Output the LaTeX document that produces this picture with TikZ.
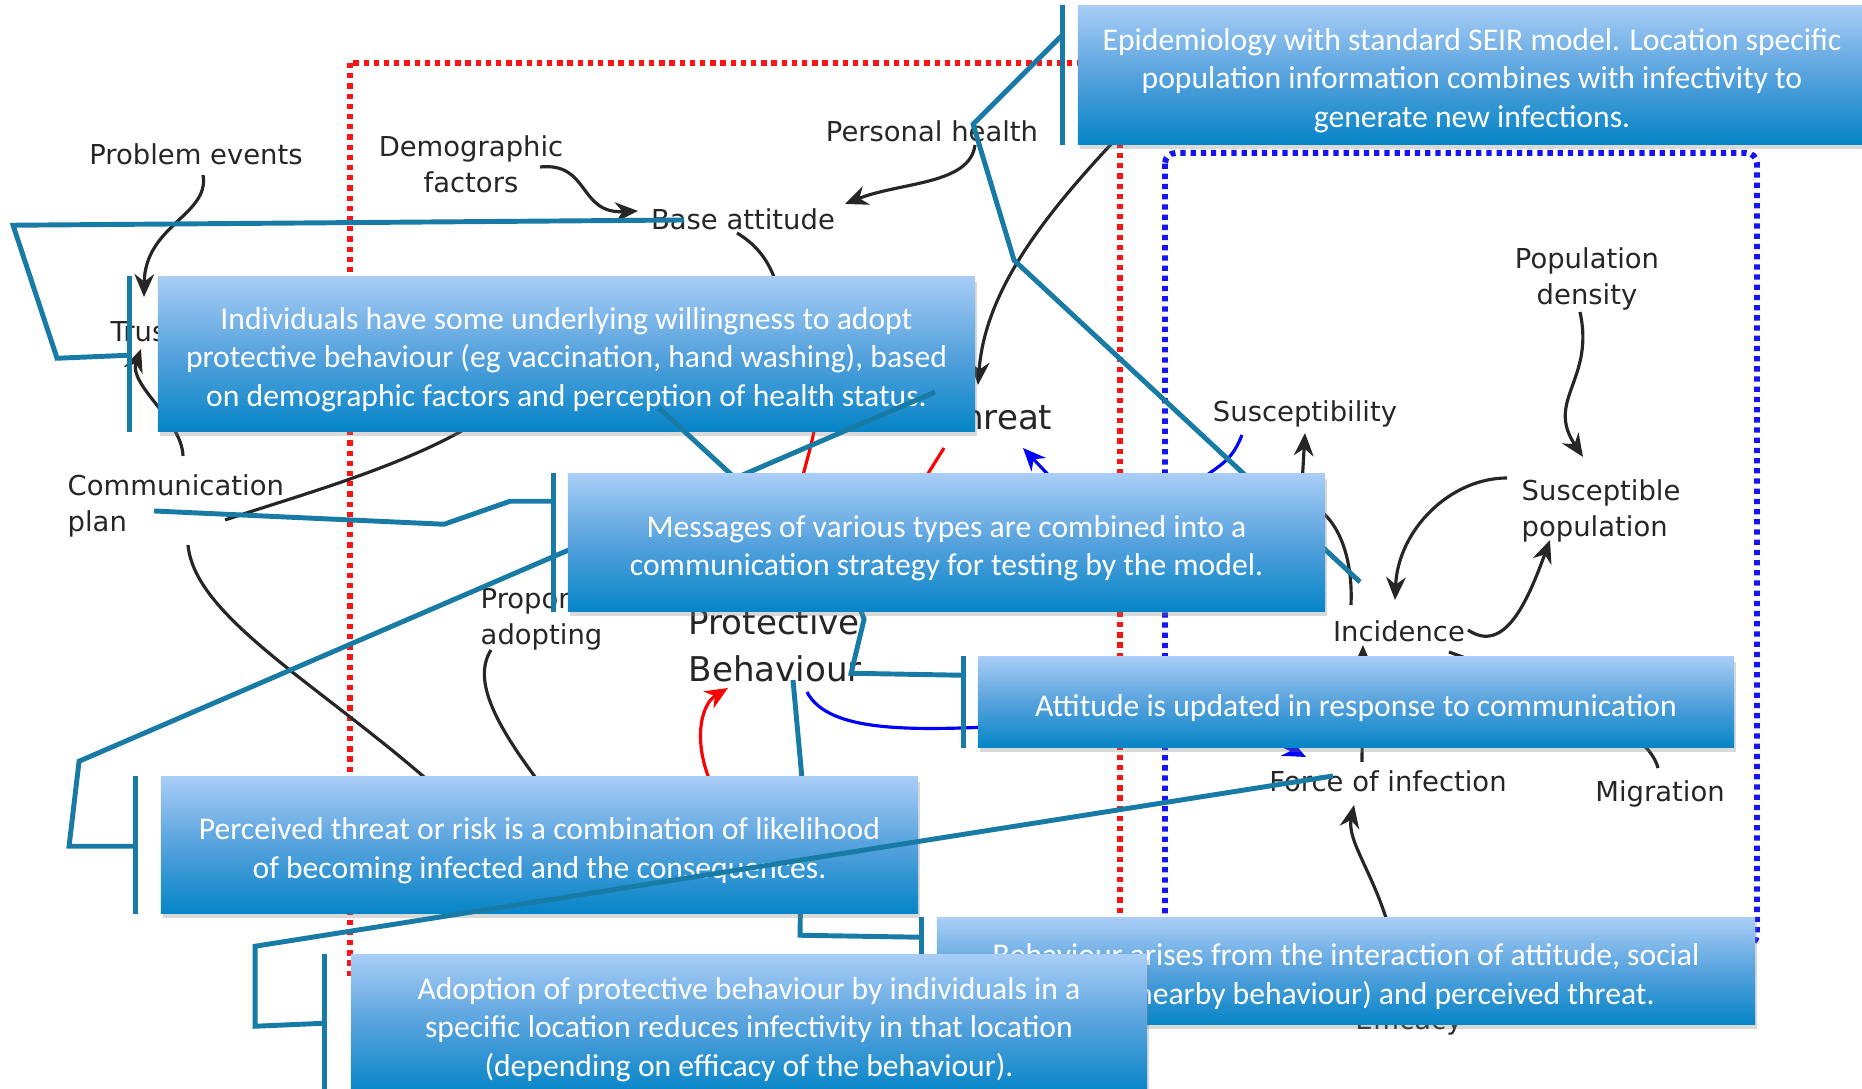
\documentclass[tikz,border=0pt]{standalone}
\usepackage{fontspec}
\usetikzlibrary{arrows.meta, shadows}
\newfontfamily\calfont{Carlito}
\newfontfamily\termfont{DejaVu Sans}
\newcommand{\calstrut}{\rule{0pt}{9.5pt}}
\definecolor{caltop}{RGB}{168,205,246}
\definecolor{calmid}{RGB}{86,162,221}
\definecolor{calbot}{RGB}{6,133,199}
\definecolor{leadblue}{RGB}{24,123,166}
\definecolor{dotred}{RGB}{250,20,20}
\definecolor{dotblue}{RGB}{20,20,245}
\tikzstyle{term} = [font=\termfont\fontsize{7.8}{10.5}\selectfont, text=black!85, inner sep=0pt, align=center]
\tikzstyle{bigterm} = [term, font=\termfont\fontsize{9.7}{13.4}\selectfont, align=left]
\tikzstyle{callout} = [rectangle, inner sep=0pt, top color=caltop, bottom color=calbot, middle color=calmid, text=white, align=center, font=\calfont\fontsize{9}{11}\selectfont, drop shadow={shadow xshift=0.6pt, shadow yshift=-1.5pt, opacity=0.3}]
\tikzstyle{bar} = [draw=leadblue, line width=1.4pt]
\tikzstyle{leader} = [draw=leadblue, line width=1.4pt]
\tikzstyle{arrow} = [line width=0.9pt, black!85, -{Stealth[length=6.5pt, width=5.6pt]}]
\tikzstyle{link} = [line width=0.9pt, black!85]
\tikzstyle{zone} = [line width=1.7pt, dash pattern=on 1.5pt off 1.4pt]

\begin{document}
\begin{tikzpicture}[x=0.01cm, y=-0.01cm]
    \useasboundingbox (0,0) rectangle (1862,1089);
    \clip (0,0) rectangle (1862,1089);

    % behaviour and epidemic zones
    \draw [zone, draw=dotred] (350,63) rectangle (1120,980);
    \draw [zone, draw=dotblue, rounded corners=3pt] (1165,153) rectangle (1757,945);

    \node (node0) [term, anchor=base] at (196,165) {Problem events};
    \node (node1) [term, anchor=base] at (471,193) {Demographic\\factors};
    \node (node2) [term, anchor=base] at (932,142) {Personal health};
    \node (node3) [term, anchor=base] at (743,230) {Base attitude};
    \node (node4) [term, anchor=base west] at (110,342) {Trust};
    \node (node5) [term, align=left, anchor=base west] at (67,532) {Communication\\plan};
    \node (node6) [term, align=left, anchor=base west] at (480,645) {Proportion\\adopting};
    \node (node7) [bigterm, anchor=base west] at (688,682) {Protective\\Behaviour};
    \node (node8) [bigterm, anchor=base east] at (1053,430) {Threat};
    \node (node9) [term, anchor=base] at (1305,422) {Susceptibility};
    \node (node10) [term, anchor=base] at (1587,305) {Population\\density};
    \node (node11) [term, align=left, anchor=base west] at (1521,537) {Susceptible\\population};
    \node (node12) [term, anchor=base] at (1399,642) {Incidence};
    \node (node13) [term, anchor=base] at (1388,792) {Force of infection};
    \node (node14) [term, anchor=base] at (1660,802) {Migration};
    \node (node15) [term, anchor=base] at (1409,1030) {Efficacy};

    % ends that run under the callouts
    \coordinate (hid0) at (780,300);
    \coordinate (hid1) at (1115,140);
    \coordinate (hid2) at (480,420);
    \coordinate (hid3) at (450,800);
    \coordinate (hid4) at (545,790);
    \coordinate (hid5) at (714,790);
    \coordinate (hid6) at (815,425);
    \coordinate (hid7) at (802,480);
    \coordinate (hid8) at (924,480);
    \coordinate (hid9) at (1055,482);
    \coordinate (hid10) at (1203,478);
    \coordinate (hid11) at (1302,485);
    \coordinate (hid12) at (1312,505);
    \coordinate (hid13) at (857,600);

    \draw [arrow] ([shift={(7,10)}]node0.base) .. controls +(7,40) and +(1,-72) .. ([shift={(34,-45)}]node4.base west);
    \draw [arrow] ([shift={(69,-26)}]node1.base) .. controls +(50,-5) and +(-60,3) .. ([shift={(-105,-19)}]node3.base);
    \draw [arrow] ([shift={(43,3)}]node2.base) .. controls +(-5,40) and +(55,-22) .. ([shift={(102,-26)}]node3.base);
    \draw [link] ([shift={(-6,3)}]node3.base) .. controls +(25,15) and +(-5,-30) .. (hid0);
    \draw [arrow] (hid1) .. controls (1045,215) and (985,290) .. ([shift={(-75,-45)}]node8.base east);
    \draw [arrow] ([shift={(116,-76)}]node5.base west) .. controls +(-1,-36) and +(-13,36) .. ([shift={(31,7)}]node4.base west);
    \draw [link] ([shift={(158,-12)}]node5.base west) .. controls +(75,-25) and +(-70,45) .. (hid2);
    \draw [link] ([shift={(121,13)}]node5.base west) .. controls +(7,75) and +(-120,-110) .. (hid3);
    \draw [link] ([shift={(11,5)}]node6.base west) .. controls +(-19,30) and +(-50,-65) .. (hid4);
    \draw [arrow, red] (hid5) .. controls (692,745) and (700,705) .. ([shift={(40,6)}]node7.base west);
    \draw [arrow, blue] ([shift={(119,10)}]node7.base west) .. controls (850,775) and (1150,680) .. ([shift={(-82,-35)}]node13.base);
    \draw [link, red] (hid6) .. controls (812,445) and (806,462) .. (hid7);
    \draw [link, red] ([shift={(-109,18)}]node8.base east) -- (hid8);
    \draw [arrow, blue] (hid9) -- ([shift={(-30,18)}]node8.base east);
    \draw [link, blue] ([shift={(-63,13)}]node9.base) .. controls +(-10,25) and +(20,-15) .. (hid10);
    \draw [arrow] (hid11) -- ([shift={(0,11)}]node9.base);
    \draw [arrow] ([shift={(-7,7)}]node10.base) .. controls +(15,68) and +(-38,-57) .. ([shift={(62,-80)}]node11.base west);
    \draw [arrow] ([shift={(-14,-59)}]node11.base west) .. controls +(-57,0) and +(3,-70) .. ([shift={(-4,-42)}]node12.base);
    \draw [arrow] ([shift={(69,-12)}]node12.base) .. controls +(37,25) and +(-22,60) .. ([shift={(29,3)}]node11.base west);
    \draw [link] (hid12) .. controls (1340,520) and (1353,560) .. ([shift={(-48,-37)}]node12.base);
    \draw [arrow] ([shift={(-26,-30)}]node13.base) -- ([shift={(-36,3)}]node12.base);
    \draw [link] ([shift={(50,10)}]node12.base) .. controls +(110,40) and +(-10,-40) .. ([shift={(-2,-34)}]node14.base);
    \draw [arrow] ([shift={(-10,-25)}]node15.base) .. controls (1400,900) and (1345,850) .. ([shift={(-34,13)}]node13.base);

    % callouts
    \node (box0) [callout, minimum width=7.88cm, minimum height=1.38cm] at (1472,75) {\calstrut Epidemiology with standard SEIR model. Location specific\\population information combines with infectivity to\\generate new infections.};
    \draw [bar] ([xshift=-0.15cm]box0.north west) -- ([xshift=-0.15cm]box0.south west);
    \draw [leader] ([shift={(-15,30)}]box0.north west) -- ++(-89,89) -- ++(41,136) -- ([shift={(-39,-60)}]node12.base);

    \node (box1) [callout, minimum width=8.17cm, minimum height=1.54cm] at (566.5,354) {\calstrut Individuals have some underlying willingness to adopt\\protective behaviour (eg vaccination, hand washing), based\\on demographic factors and perception of health status.};
    \draw [bar] ([xshift=-0.28cm]box1.north west) -- ([xshift=-0.28cm]box1.south west);
    \draw [leader] ([shift={(-28,79)}]box1.north west) -- ++(-72,3) -- ++(-44,-133) -- ([shift={(-59,-10)}]node3.base);

    \node (box3) [callout, minimum width=7.56cm, minimum height=0.90cm] at (1356,702) {\calstrut Attitude is updated in response to communication};
    \draw [bar] ([xshift=-0.14cm]box3.north west) -- ([xshift=-0.14cm]box3.south west);
    \draw [leader] ([shift={(-14,19)}]box3.north west) -- ++(-112,-2) -- ++(13,-54) -- (hid13);

    \node (box5) [callout, minimum width=8.18cm, minimum height=1.06cm] at (1346,971) {\calstrut Behaviour arises from the interaction of attitude, social\\norms (nearby behaviour) and perceived threat.};
    \draw [bar] ([xshift=-0.15cm]box5.north west) -- ([xshift=-0.15cm]box5.south west);
    \draw [leader] ([shift={(-15,20)}]box5.north west) -- ++(-121,-2) -- ++(2,-156) -- ([shift={(105,-2)}]node7.base west);

    \node (box4) [callout, minimum width=7.57cm, minimum height=1.36cm] at (539.5,845) {\calstrut Perceived threat or risk is a combination of likelihood\\of becoming infected and the consequences.};
    \draw [bar] ([xshift=-0.25cm]box4.north west) -- ([xshift=-0.25cm]box4.south west);
    \draw [leader] ([shift={(-25,70)}]box4.north west) -- ++(-66,0) -- ++(10,-85) -- ([shift={(-118,-38)}]node8.base east);

    \coordinate (tip0) at (659,408);
    \draw [leader] (tip0) -- (735,478);
    \node (box2) [callout, minimum width=7.57cm, minimum height=1.37cm] at (946.5,542.5) {\calstrut Messages of various types are combined into a\\communication strategy for testing by the model.};
    \draw [bar] ([xshift=-0.14cm]box2.north west) -- ([xshift=-0.14cm]box2.south west);
    \draw [leader] ([shift={(-14,28)}]box2.north west) -- ++(-43,0) -- ++(-66,23) -- ([shift={(87,-21)}]node5.base west);

    \node (box6) [callout, minimum width=7.96cm, minimum height=1.38cm] at (749,1024) {\calstrut Adoption of protective behaviour by individuals in a\\specific location reduces infectivity in that location\\(depending on efficacy of the behaviour).};
    \draw [bar] ([xshift=-0.26cm]box6.north west) -- ([xshift=-0.26cm]box6.south west);
    \draw [leader] ([shift={(-26,69)}]box6.north west) -- ++(-69,3) -- ++(0,-80) -- ([shift={(-55,-16)}]node13.base);
\end{tikzpicture}
\end{document}
